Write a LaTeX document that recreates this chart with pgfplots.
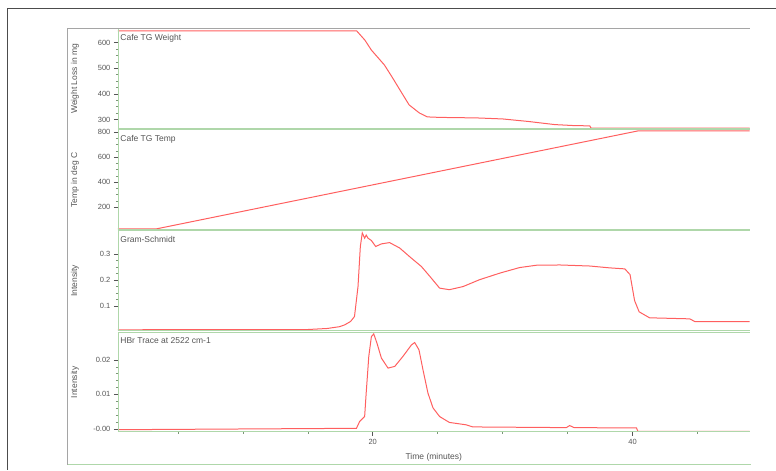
\documentclass[border=0pt]{standalone}
\usepackage{pgfplots}
\pgfplotsset{compat=1.18}
\usepackage{fontspec}
\setmainfont{Liberation Sans}
\definecolor{trace}{RGB}{255,95,95}
\definecolor{axgreen}{RGB}{175,215,170}
\definecolor{framegray}{RGB}{165,165,165}
\definecolor{txt}{RGB}{85,85,85}
\pgfplotsset{
  panel/.style={
    scale only axis, width=632pt,
    xmin=0.4, xmax=49,
    scaled ticks=false,
    axis line style={draw=none},
    tick pos=left, tick align=outside,
    major tick length=4pt, minor tick length=2pt,
    every tick/.style={draw=txt, line width=0.4pt},
    minor tick style={draw=axgreen!70!black},
    xtick=\empty,
    ticklabel style={font=\fontsize{7.5}{8}\selectfont, text=txt},
    every axis y label/.style={at={(axis description cs:-0.068,0.5)}, rotate=90, anchor=center, font=\fontsize{8.5}{9}\selectfont, text=txt},
    clip=false,
  },
  tr/.style={color=trace, line width=1.0pt, no markers},
}
\newcommand{\paneltitle}[1]{\node[anchor=north west, font=\fontsize{8.5}{9}\selectfont, text=txt, inner sep=1pt] at (rel axis cs:0.002,0.96) {#1};}
\begin{document}
\begin{tikzpicture}[x=1pt,y=1pt]
\path (0,0) rectangle (776,470);
% outer frames
\draw[black!70, line width=0.8pt] (7,0) -- (7,462) -- (776,462);
\draw[framegray, line width=1pt] (68,5) -- (68,441) -- (750,441);
\draw[axgreen, line width=1pt] (68,5) -- (751,5);

% Panel 1: weight
\begin{axis}[panel, at={(118pt,341pt)}, anchor=south west, height=100pt,
  ymin=263, ymax=653.5, ytick={300,400,500,600}, yticklabels={300,400,500,600},
  minor y tick num=3, ylabel={Weight Loss in mg}]
\addplot[tr] coordinates {(0.4,646) (18.77,646) (19.4,610) (19.9,571) (20.9,513) (21.5,465) (22.1,415) (22.8,357) (23.6,325) (24.2,310) (25.2,308) (28,306) (30,302) (32,292) (34,280) (35.5,276) (36.7,275) (36.8,266) (49,266)};
\draw[axgreen, line width=1pt] (rel axis cs:0,0) -- (rel axis cs:1,0);
\draw[axgreen, line width=0.6pt] (rel axis cs:0,0) -- (rel axis cs:0,1);
\paneltitle{Cafe TG Weight}
\end{axis}

% Panel 2: temp
\begin{axis}[panel, at={(118pt,240pt)}, anchor=south west, height=100pt,
  ymin=18, ymax=818, ytick={200,400,600,800}, yticklabels={200,400,600,800},
  minor y tick num=3, ylabel={Temp in deg C}]
\addplot[tr] coordinates {(0.4,26) (3.36,26) (40.4,810) (49,810)};
\draw[axgreen, line width=1pt] (rel axis cs:0,0) -- (rel axis cs:1,0);
\draw[axgreen, line width=1pt] (rel axis cs:0,1) -- (rel axis cs:1,1);
\draw[axgreen, line width=0.6pt] (rel axis cs:0,0) -- (rel axis cs:0,1);
\paneltitle{Cafe TG Temp}
\end{axis}

% Panel 3: Gram-Schmidt
\begin{axis}[panel, at={(118pt,139pt)}, anchor=south west, height=100pt,
  ymin=0.004, ymax=0.388, ytick={0.1,0.2,0.3}, yticklabels={0.1,0.2,0.3},
  minor y tick num=3, ylabel={Intensity}]
\addplot[tr] coordinates {(0.4,0.008) (15,0.009) (16.5,0.013) (17.46,0.02) (17.85,0.027) (18.3,0.04) (18.6,0.059) (18.87,0.174) (19.05,0.328) (19.2,0.38) (19.38,0.36) (19.5,0.372) (19.64,0.36) (19.9,0.351) (20.23,0.328) (20.67,0.338) (21.3,0.343) (22.08,0.322) (22.98,0.283) (23.75,0.251) (24.4,0.213) (25.15,0.168) (25.9,0.162) (26.95,0.174) (28.2,0.2) (29.8,0.226) (31.3,0.247) (32.6,0.256) (34.4,0.257) (36.7,0.253) (38.2,0.246) (39.4,0.242) (39.8,0.22) (40.15,0.12) (40.5,0.077) (41.3,0.054) (44.4,0.05) (44.8,0.039) (49,0.039)};
\draw[axgreen, line width=1pt] (rel axis cs:0,0) -- (rel axis cs:1,0);
\draw[axgreen, line width=1pt] (rel axis cs:0,1) -- (rel axis cs:1,1);
\draw[axgreen, line width=0.6pt] (rel axis cs:0,0) -- (rel axis cs:0,1);
\paneltitle{Gram-Schmidt}
\end{axis}

% Panel 4: HBr
\begin{axis}[panel, at={(118pt,38pt)}, anchor=south west, height=99pt,
  ymin=-0.0008, ymax=0.0278, ytick={0,0.01,0.02}, yticklabels={-0.00,0.01,0.02},
  minor y tick num=4, ylabel={Intensity},
  xtick={20,40}, xticklabels={20,40}, minor xtick={5,10,15,25,30,35,45},
  xlabel={Time (minutes)},
  every axis x label/.style={at={(axis description cs:0.5,-0.263)}, anchor=center, font=\fontsize{8.5}{9}\selectfont, text=txt}]
\addplot[tr] coordinates {(0.4,-0.0002) (18.75,0.0002) (19.0,0.0022) (19.38,0.0036) (19.5,0.0104) (19.7,0.021) (19.9,0.0267) (20.08,0.0275) (20.33,0.0248) (20.67,0.0205) (21.18,0.0176) (21.7,0.0181) (22.33,0.021) (22.98,0.0243) (23.23,0.025) (23.56,0.0229) (23.87,0.0171) (24.25,0.0104) (24.64,0.0061) (25.15,0.0036) (25.9,0.0019) (27.2,0.0012) (27.7,0.0006) (34.9,0.0004) (35.15,0.001) (35.5,0.0004) (40.3,0.0003) (40.4,-0.0007) (49,-0.0007)};
\draw[axgreen, line width=1pt] (rel axis cs:0,0) -- (rel axis cs:1,0);
\draw[axgreen, line width=1pt] (rel axis cs:0,1) -- (rel axis cs:1,1);
\draw[axgreen, line width=0.6pt] (rel axis cs:0,0) -- (rel axis cs:0,1);
\paneltitle{HBr Trace at 2522 cm-1}
\end{axis}
\end{tikzpicture}
\end{document}
